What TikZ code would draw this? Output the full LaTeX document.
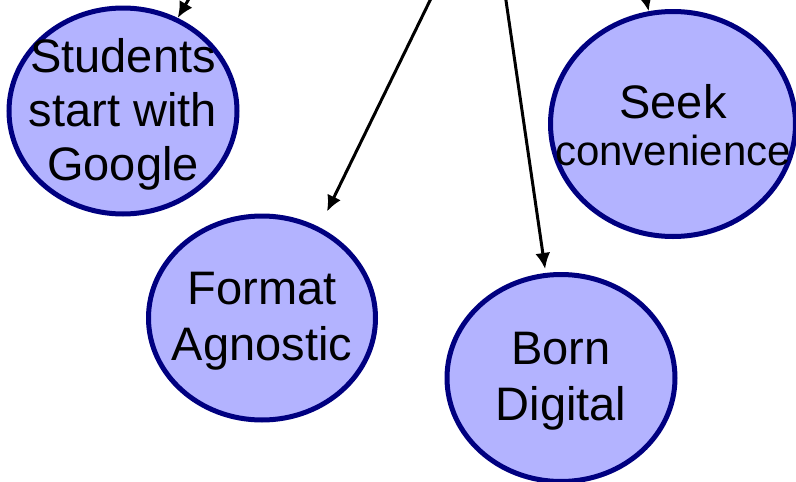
\documentclass[tikz,border=0pt]{standalone}
\usepackage[svgnames]{xcolor}
\usepackage{fontspec}
\setmainfont{Liberation Sans}
\usetikzlibrary{calc, arrows.meta, shapes.geometric}
\definecolor{bubble}{RGB}{179,179,255}
\tikzset{>=latex}

\begin{document}
\begin{tikzpicture}[x=1pt, y=-1pt,
  idea/.style={ellipse, draw=Navy, line width=5pt, fill=bubble, inner sep=0pt},
  words/.style={align=center, yshift=-3pt, font=\fontsize{47}{56}\selectfont},
  arr/.style={line width=3pt, -{Latex[length=16pt, width=15pt]}}]
\useasboundingbox (0,0) rectangle (796,482);
\node[idea, minimum width=228pt, minimum height=206pt,
  label={[words, font=\fontsize{47}{54}\selectfont]center:Students\\start with\\Google}] (students) at (123,111) {};
\node[idea, minimum width=245pt, minimum height=225pt,
  label={[words, yshift=2pt]center:Seek\\[-9pt]\fontsize{42}{47}\selectfont convenience}] (seek) at (673,124) {};
\node[idea, minimum width=227pt, minimum height=204pt,
  label={[words]center:Format\\Agnostic}] (format) at (262,318) {};
\node[idea, minimum width=228pt, minimum height=207pt,
  label={[words]center:Born\\Digital}] (born) at (561,378) {};
% arrows coming in from above the frame
\coordinate (top1) at (200,-20);
\coordinate (top2) at (440,-20);
\coordinate (top3) at (503,-20);
\coordinate (top4) at (642,-20);
\draw[arr] (top1) -- (students);
\draw[arr] (top2) -- ($(format.north)+(65,-2)$);
\draw[arr, shorten >=4pt] (top3) -- (born);
\draw[arr] (top4) -- (seek);
\end{tikzpicture}
\end{document}
